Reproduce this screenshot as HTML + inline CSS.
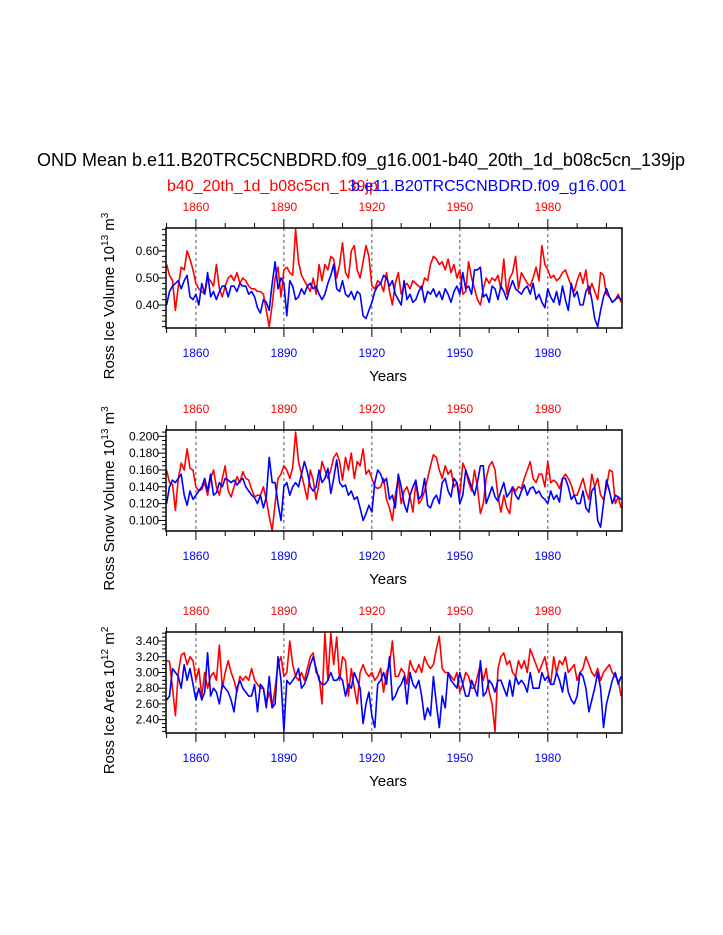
<!DOCTYPE html>
<html><head><meta charset="utf-8">
<style>
body{margin:0;background:#fff;}
svg{display:block;font-family:"Liberation Sans",Arial,sans-serif;}
</style></head>
<body>
<svg id="chart" width="723" height="935" viewBox="0 0 723 935" xmlns="http://www.w3.org/2000/svg">
<text x="361" y="166" font-size="18" text-anchor="middle">OND Mean b.e11.B20TRC5CNBDRD.f09_g16.001-b40_20th_1d_b08c5cn_139jp</text>
<text x="167" y="191" font-size="16" fill="#ff0000">b40_20th_1d_b08c5cn_139jp</text>
<text x="351" y="191" font-size="16" fill="#0000ff">b.e11.B20TRC5CNBDRD.f09_g16.001</text>
<g id="panels"></g>
</svg>
<script>
const years = [];
for (let y = 1850; y <= 2005; y++) years.push(y);
const majorYears = [1860, 1890, 1920, 1950, 1980];

const iceVolRed = [.55,.51,.49,.38,.47,.54,.53,.60,.57,.53, .48,.46,.45,.44,.50,.49,.47,.55,.46,.43, .47,.50,.51,.49,.52,.48,.50,.49,.47,.46, .46,.45,.45,.44,.38,.32,.40,.50,.54,.43, .53,.54,.52,.51,.68,.56,.51,.49,.47,.45, .50,.44,.55,.49,.55,.53,.58,.57,.50,.55, .63,.52,.50,.60,.62,.53,.50,.56,.62,.58, .47,.46,.49,.48,.45,.52,.45,.40,.48,.52, .44,.47,.48,.46,.49,.48,.47,.46,.50,.49, .55,.58,.57,.55,.56,.53,.57,.52,.55,.50, .53,.44,.45,.56,.50,.46,.42,.40,.46,.50, .48,.50,.49,.51,.46,.57,.44,.50,.52,.58, .46,.52,.50,.48,.47,.50,.54,.49,.62,.55, .53,.50,.51,.49,.50,.52,.53,.50,.47,.45, .49,.52,.48,.53,.44,.48,.45,.42,.52,.51, .44,.43,.41,.42,.44,.41];
const iceVolBlue = [.40,.45,.47,.48,.49,.46,.49,.51,.43,.42, .44,.40,.48,.44,.52,.43,.45,.42,.45,.47, .47,.43,.47,.47,.45,.48,.47,.47,.44,.45, .43,.39,.37,.42,.41,.38,.48,.56,.46,.50, .48,.36,.49,.47,.42,.43,.46,.44,.47,.48, .46,.47,.44,.42,.44,.48,.51,.55,.46,.45, .49,.44,.43,.45,.42,.45,.44,.36,.35,.38, .41,.45,.47,.48,.51,.50,.47,.49,.44,.42, .40,.49,.42,.44,.41,.42,.45,.47,.41,.45, .44,.46,.43,.45,.42,.46,.44,.41,.45,.47, .44,.52,.46,.47,.44,.53,.53,.54,.43,.44, .41,.47,.46,.42,.47,.45,.42,.46,.49,.46, .45,.44,.46,.47,.44,.48,.42,.44,.41,.39, .46,.43,.41,.45,.40,.47,.42,.38,.48,.43, .45,.40,.40,.45,.47,.42,.35,.32,.38,.43, .46,.43,.41,.42,.43,.42];
const snowRed = [.160,.145,.143,.112,.150,.168,.160,.185,.162,.160, .140,.135,.137,.145,.130,.150,.160,.140,.130,.150, .165,.135,.128,.140,.152,.145,.158,.150,.148,.137, .128,.130,.130,.140,.125,.105,.088,.120,.150,.155, .165,.160,.150,.163,.205,.170,.155,.140,.125,.160, .148,.125,.145,.170,.160,.150,.160,.175,.180,.170, .148,.175,.160,.180,.150,.170,.165,.185,.155,.160, .150,.140,.138,.140,.150,.125,.115,.100,.130,.150, .120,.135,.140,.128,.110,.145,.120,.125,.135,.150, .165,.178,.175,.160,.150,.165,.155,.160,.140,.145, .130,.168,.160,.145,.135,.160,.140,.108,.120,.150, .165,.170,.160,.128,.110,.130,.115,.108,.140,.135, .140,.138,.150,.160,.170,.150,.145,.155,.155,.140, .170,.145,.148,.145,.138,.150,.155,.150,.142,.130, .130,.140,.150,.135,.125,.155,.140,.150,.130,.125, .140,.160,.158,.120,.128,.115];
const snowBlue = [.120,.140,.148,.145,.150,.155,.130,.118,.135,.125, .130,.135,.140,.150,.135,.155,.130,.133,.145,.140, .150,.148,.145,.148,.142,.147,.150,.140,.135,.130, .127,.120,.130,.115,.128,.175,.145,.145,.120,.100, .140,.145,.130,.140,.145,.140,.155,.170,.158,.140, .135,.140,.160,.145,.150,.162,.132,.150,.172,.145, .140,.142,.130,.135,.125,.128,.115,.100,.108,.118, .110,.145,.160,.155,.145,.150,.125,.130,.115,.155, .140,.120,.110,.130,.140,.148,.125,.130,.150,.118, .115,.125,.130,.120,.145,.150,.135,.128,.150,.145, .120,.130,.160,.150,.140,.130,.145,.165,.165,.120, .130,.140,.128,.123,.135,.145,.128,.133,.140,.130, .125,.135,.142,.130,.138,.140,.132,.135,.128,.125, .120,.135,.125,.130,.122,.150,.150,.140,.125,.130, .120,.120,.135,.115,.110,.135,.140,.100,.092,.120, .148,.135,.120,.130,.128,.125];
const areaRed = [3.15,3.14,2.80,2.45,3.00,3.22,3.25,3.10,3.20,3.15, 2.90,3.05,2.70,3.00,2.80,2.95,3.00,2.90,3.35,2.80, 3.00,3.15,3.00,2.90,2.75,2.95,2.90,2.95,2.90,3.05, 2.90,2.85,2.80,2.80,2.60,2.75,2.55,2.80,3.10,3.20, 2.95,3.00,3.40,3.10,2.95,2.90,3.00,2.90,3.05,3.20, 3.25,3.00,2.95,2.60,3.50,2.90,3.50,3.10,3.45,2.90, 3.20,3.15,2.70,3.05,2.80,2.60,3.00,3.10,3.00,2.95, 3.00,2.90,2.95,3.05,2.75,3.00,3.10,3.40,2.95,2.95, 3.05,3.00,2.85,3.15,3.05,3.00,3.10,3.00,3.20,3.10, 3.05,3.10,3.30,3.46,3.05,3.00,3.00,2.95,2.90,3.00, 2.75,2.85,3.00,2.95,2.80,2.80,2.95,3.10,2.90,3.05, 2.75,2.60,2.25,3.05,3.20,3.25,3.10,3.15,3.00,2.95, 3.15,3.05,3.15,3.00,3.30,3.20,3.10,3.00,3.10,3.20, 3.00,2.85,3.20,3.00,3.15,3.10,3.20,3.00,3.05,3.10, 2.90,3.00,3.05,3.20,3.10,3.00,2.95,3.05,2.90,3.00, 3.05,3.10,3.00,2.95,2.90,2.70];
const areaBlue = [2.65,2.70,3.05,3.00,2.95,2.80,3.10,2.90,3.05,2.85, 2.65,2.80,2.65,2.75,3.25,2.70,2.80,2.75,2.60,2.85, 2.80,2.75,2.65,2.50,2.80,2.90,2.80,2.75,2.70,2.70, 2.85,2.50,2.85,2.80,2.55,2.95,2.55,2.60,3.20,2.90, 2.25,2.90,2.85,2.90,2.95,3.05,2.80,2.85,2.95,3.10, 3.20,3.05,2.90,2.85,2.85,2.90,3.00,2.90,2.90,2.95, 2.90,2.70,2.85,2.80,3.00,2.90,2.80,2.35,2.60,2.75, 2.45,2.30,2.85,2.90,3.00,2.85,3.20,2.65,2.70,2.80, 2.85,2.95,2.60,3.00,2.85,2.80,2.90,2.70,2.40,2.55, 2.45,2.95,2.60,2.30,2.70,2.55,3.00,2.90,2.85,2.80, 3.00,2.85,2.70,2.70,2.90,2.80,2.70,3.15,2.70,2.75, 2.90,2.85,2.75,2.90,2.90,2.80,2.70,2.90,2.70,2.95, 2.85,2.90,2.85,2.75,3.00,2.80,2.80,2.80,3.00,2.90, 2.95,2.85,2.85,3.00,2.90,2.75,3.00,2.75,2.65,2.60, 2.70,3.00,2.95,2.80,2.50,2.65,2.80,3.00,2.80,2.30, 2.60,2.75,2.90,3.00,2.85,2.95];

const volTicks = [0.40, 0.50, 0.60];
const snowTicks = [0.100, 0.120, 0.140, 0.160, 0.180, 0.200];
const areaTicks = [2.40, 2.60, 2.80, 3.00, 3.20, 3.40];

const NS = 'http://www.w3.org/2000/svg';
const root = document.getElementById('panels');
function mk(tag, attrs, parent) {
  const e = document.createElementNS(NS, tag);
  for (const k in attrs) e.setAttribute(k, attrs[k]);
  (parent || root).appendChild(e);
  return e;
}
const X0 = 166, X1 = 622, Y0 = 1849.8, Y1 = 2005.3;
const xs = yr => X0 + (yr - Y0) / (Y1 - Y0) * (X1 - X0);

const panels = [
  {name:'ice-volume', top:228, bot:328, vmin:0.315, vmax:0.685, ticks:volTicks, minor:0.02, dec:2, red:iceVolRed, blue:iceVolBlue, title:'Ross Ice Volume 10', exp:'13', unit:' m', uexp:'3'},
  {name:'snow-volume', top:430, bot:531, vmin:0.0875, vmax:0.2075, ticks:snowTicks, minor:0.005, dec:3, red:snowRed, blue:snowBlue, title:'Ross Snow Volume 10', exp:'13', unit:' m', uexp:'3'},
  {name:'ice-area', top:632, bot:733, vmin:2.23, vmax:3.515, ticks:areaTicks, minor:0.05, dec:2, red:areaRed, blue:areaBlue, title:'Ross Ice Area 10', exp:'12', unit:' m', uexp:'2'}
];

panels.forEach(p => {
  const g = mk('g', {});
  
  
  const ys = v => p.bot - (v - p.vmin) / (p.vmax - p.vmin) * (p.bot - p.top);
  majorYears.forEach(yr => {
    const l = mk('line', {x1:xs(yr), x2:xs(yr), y1:p.top, y2:p.bot, stroke:'#555', 'stroke-width':1, 'stroke-dasharray':'3,3'}, g);
    
    
  });
  for (let yr = 1850; yr <= 2000; yr += 10) {
    const maj = majorYears.includes(yr);
    const len = maj ? 9 : 5;
    mk('line', {x1:xs(yr), x2:xs(yr), y1:p.top, y2:p.top - len, stroke:'#000', 'stroke-width':1}, g);
    mk('line', {x1:xs(yr), x2:xs(yr), y1:p.bot, y2:p.bot + len, stroke:'#000', 'stroke-width':1}, g);
  }
  majorYears.forEach(yr => {
    const t = mk('text', {x:xs(yr), y:p.top - 17, 'font-size':12, fill:'#ff0000', 'text-anchor':'middle'}, g);
    t.textContent = yr;
    
    
    const b = mk('text', {x:xs(yr), y:p.bot + 29, 'font-size':12, fill:'#0000ff', 'text-anchor':'middle'}, g);
    b.textContent = yr;
    
    
  });
  const n0 = Math.ceil(p.vmin / p.minor - 1e-6), n1 = Math.floor(p.vmax / p.minor + 1e-6);
  for (let n = n0; n <= n1; n++) {
    const v = n * p.minor;
    const maj = p.ticks.some(t => Math.abs(t - v) < p.minor / 10);
    mk('line', {x1:X0, x2:X0 - (maj ? 8 : 4), y1:ys(v), y2:ys(v), stroke:'#000', 'stroke-width':1}, g);
  }
  p.ticks.forEach(v => {
    const t = mk('text', {x:X0 - 7, y:ys(v) + 4, 'font-size':12, 'text-anchor':'end'}, g);
    t.textContent = v.toFixed(p.dec);
    
    
  });
  [['red', p.red, '#ff0000'], ['blue', p.blue, '#0000ff']].forEach(s => {
    const d = s[1].map((v, i) => (i ? 'L' : 'M') + xs(years[i]).toFixed(1) + ',' + ys(v).toFixed(1)).join('');
    const path = mk('path', {d:d, fill:'none', stroke:s[2], 'stroke-width':1.6, 'stroke-linejoin':'round'}, g);
    
    
  });
  const box = mk('rect', {x:X0, y:p.top, width:X1 - X0, height:p.bot - p.top, fill:'none', stroke:'#000', 'stroke-width':1.5}, g);
  
  
  const xt = mk('text', {x:388, y:p.bot + 53, 'font-size':15, 'text-anchor':'middle'}, g);
  xt.textContent = 'Years';
  
  
  const cy = (p.top + p.bot) / 2 + 18;
  const yt = mk('text', {x:0, y:0, 'font-size':15, 'text-anchor':'middle', transform:'translate(114,' + cy + ') rotate(-90)'}, g);
  
  
  const a = document.createElementNS(NS, 'tspan'); a.textContent = p.title; yt.appendChild(a);
  const b = document.createElementNS(NS, 'tspan'); b.setAttribute('dy', '-6'); b.setAttribute('font-size', '10'); b.textContent = p.exp; yt.appendChild(b);
  const c = document.createElementNS(NS, 'tspan'); c.setAttribute('dy', '6'); c.textContent = p.unit; yt.appendChild(c);
  const d2 = document.createElementNS(NS, 'tspan'); d2.setAttribute('dy', '-6'); d2.setAttribute('font-size', '10'); d2.textContent = p.uexp; yt.appendChild(d2);
});
</script>
</body></html>
